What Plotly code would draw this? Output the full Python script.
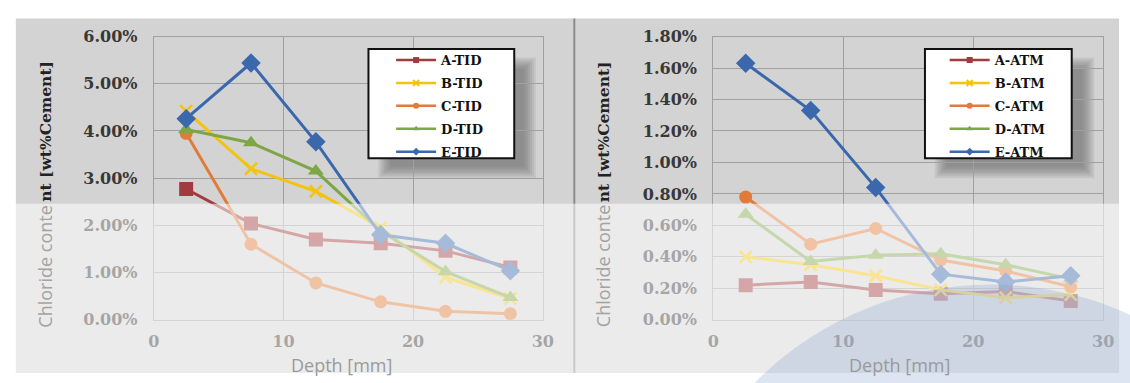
import plotly.graph_objects as go

W, H = 1130, 383

# ---- data -------------------------------------------------------------
DEPTH_MM = [2.5, 7.5, 12.5, 17.5, 22.5, 27.5]

TID_NAMES = ["A-TID", "B-TID", "C-TID", "D-TID", "E-TID"]
A_TID = [2.77, 2.04, 1.70, 1.62, 1.46, 1.11]
B_TID = [4.42, 3.20, 2.72, 1.95, 0.90, 0.45]
C_TID = [3.95, 1.60, 0.78, 0.38, 0.18, 0.13]
D_TID = [4.03, 3.75, 3.15, 1.88, 1.02, 0.47]
E_TID = [4.26, 5.44, 3.77, 1.80, 1.62, 1.04]

ATM_NAMES = ["A-ATM", "B-ATM", "C-ATM", "D-ATM", "E-ATM"]
A_ATM = [0.22, 0.24, 0.19, 0.165, 0.18, 0.12]
B_ATM = [0.40, 0.35, 0.28, 0.19, 0.14, 0.16]
C_ATM = [0.78, 0.48, 0.58, 0.38, 0.31, 0.21]
D_ATM = [0.67, 0.37, 0.41, 0.42, 0.35, 0.26]
E_ATM = [1.63, 1.33, 0.84, 0.29, 0.24, 0.28]

X_TICKS = [0, 10, 20, 30]
Y_TICKS_TID = [0, 1, 2, 3, 4, 5, 6]
Y_TICKS_ATM = [0.0, 0.2, 0.4, 0.6, 0.8, 1.0, 1.2, 1.4, 1.6, 1.8]

# ---- styles -----------------------------------------------------------
COLORS = ["#a23b3e", "#f2c30f", "#e07b39", "#7ea646", "#3b68ad"]
SYMBOLS = ["square", "x-thin", "circle", "triangle-up", "diamond"]
SIZES = [14, 12, 13, 14, 15]

SERIF = "DejaVu Serif"
SANS = "Open Sans"


def fx(px):
    return px / W


def fy(py):
    return 1 - py / H


fig = go.Figure()


def marker_style(i, size):
    if SYMBOLS[i] == "x-thin":
        return dict(symbol="x-thin", size=size,
                    line=dict(width=2.6 if size > 8 else 2, color=COLORS[i]))
    return dict(symbol=SYMBOLS[i], size=size, color=COLORS[i], line=dict(width=0))


def add_panel(names, series, xa, ya, legend):
    for i, (name, vals) in enumerate(zip(names, series)):
        fig.add_trace(go.Scatter(
            x=DEPTH_MM, y=vals, name=name, mode="lines+markers",
            xaxis=xa, yaxis=ya, showlegend=False,
            line=dict(color=COLORS[i], width=3),
            marker=marker_style(i, SIZES[i]),
            hoverinfo="skip",
        ))
    # compact legend entries with small markers
    for i, name in enumerate(names):
        fig.add_trace(go.Scatter(
            x=[None], y=[None], name=name, mode="lines+markers",
            xaxis=xa, yaxis=ya, legend=legend, legendgroup=name,
            line=dict(color=COLORS[i], width=2.5),
            marker=marker_style(i, 6),
        ))


add_panel(TID_NAMES, [A_TID, B_TID, C_TID, D_TID, E_TID], "x", "y", "legend")
add_panel(ATM_NAMES, [A_ATM, B_ATM, C_ATM, D_ATM, E_ATM], "x2", "y2", "legend2")

PLOT_TOP, PLOT_BOTTOM = 29, 327
LEFT_X = (150, 545)
RIGHT_X = (718, 1114)

grid = "#a0a0a0"
tickfont = dict(family=SERIF, size=16, color="#383838", weight="bold")

xcommon = dict(range=[0, 30], tickmode="array", tickvals=X_TICKS,
               ticktext=[str(v) for v in X_TICKS], showgrid=True,
               gridcolor=grid, gridwidth=1, zeroline=False, showline=True,
               linecolor=grid, mirror=True, ticks="", tickfont=tickfont,
               ticklabelstandoff=7, fixedrange=True)
ycommon = dict(showgrid=True, gridcolor=grid, gridwidth=1, zeroline=False,
               showline=True, linecolor=grid, mirror=True, ticks="",
               tickfont=tickfont, ticklabelstandoff=12, fixedrange=True)

legend_common = dict(
    bgcolor="rgba(0,0,0,0)", borderwidth=0, xanchor="left", yanchor="top",
    font=dict(family=SERIF, size=13, color="#111111", weight="bold"),
    traceorder="grouped", tracegroupgap=3, itemwidth=40,
)

shapes = [
    # chart frames
    dict(type="rect", xref="paper", yref="paper", layer="below",
         x0=fx(10), x1=1, y0=0, y1=fy(10), fillcolor="#d3d3d3", line_width=0),
    dict(type="rect", xref="paper", yref="paper", layer="below",
         x0=fx(576), x1=fx(578), y0=0, y1=fy(10), fillcolor="#8a8a8a", line_width=0),
]


def legend_shapes(xd, yd, box, shadow):
    out = []
    x0, x1 = LEFT_X if xd == "x" else RIGHT_X

    def dx(p):
        return (p - x0) / (x1 - x0)

    def dy(p):
        return (PLOT_BOTTOM - p) / (PLOT_BOTTOM - PLOT_TOP)

    # soft drop shadow: stacked translucent rectangles
    sx0, sy0, sx1, sy1 = shadow
    for grow in [7, 5, 3, 1, -1, -3, -5]:
        out.append(dict(type="rect", xref=f"{xd} domain", yref=f"{yd} domain",
                        layer="below", x0=dx(sx0 - grow), x1=dx(sx1 + grow),
                        y0=dy(sy1 + grow), y1=dy(sy0 - grow),
                        fillcolor="rgba(95,95,95,0.12)", line_width=0))
    bx0, by0, bx1, by1 = box
    out.append(dict(type="rect", xref="paper", yref="paper", layer="above",
                    x0=fx(bx0), x1=fx(bx1), y0=fy(by1), y1=fy(by0),
                    fillcolor="white", line=dict(color="#111111", width=2)))
    return out


shapes += legend_shapes("x", "y", (368, 42, 516, 157), (385, 58, 531, 171))
shapes += legend_shapes("x2", "y2", (933, 42, 1082, 157), (950, 58, 1098, 171))

# pale wash over the lower band and the bluish disc at lower right
shapes.append(dict(type="rect", xref="paper", yref="paper", layer="above",
                   x0=0, x1=1, y0=0, y1=fy(205), fillcolor="white",
                   opacity=0.55, line_width=0))
shapes.append(dict(type="circle", xref="paper", yref="paper", layer="above",
                   x0=fx(670), x1=fx(1330), y0=fy(950), y1=fy(290),
                   fillcolor="rgba(130,160,205,0.28)", line_width=0))

annotations = []
for cx in (40, 606):
    annotations.append(dict(
        text="Chloride conte", textangle=-90, xref="paper", yref="paper",
        x=fx(cx), y=fy(337), xanchor="center", yanchor="bottom", showarrow=False,
        font=dict(family=SANS, size=18, color="#a3a3a3")))
    annotations.append(dict(
        text="nt [wt%Cement]", textangle=-90, xref="paper", yref="paper",
        x=fx(cx), y=fy(205), xanchor="center", yanchor="bottom", showarrow=False,
        font=dict(family=SERIF, size=15.5, color="#222222", weight="bold")))
for cx in (341, 907):
    annotations.append(dict(
        text="Depth [mm]", xref="paper", yref="paper", x=fx(cx), y=fy(375),
        xanchor="center", yanchor="middle", showarrow=False,
        font=dict(family=SANS, size=18, color="#9a9a9a")))

fig.update_layout(
    width=W, height=H, autosize=False,
    margin=dict(l=0, r=0, t=0, b=0),
    paper_bgcolor="white", plot_bgcolor="white",
    xaxis=dict(domain=[fx(LEFT_X[0]), fx(LEFT_X[1])], anchor="y", **xcommon),
    yaxis=dict(domain=[fy(PLOT_BOTTOM), fy(PLOT_TOP)], anchor="x",
               range=[0, 6], tickmode="array", tickvals=Y_TICKS_TID,
               ticktext=[f"{v:.2f}%" for v in Y_TICKS_TID], **ycommon),
    xaxis2=dict(domain=[fx(RIGHT_X[0]), fx(RIGHT_X[1])], anchor="y2", **xcommon),
    yaxis2=dict(domain=[fy(PLOT_BOTTOM), fy(PLOT_TOP)], anchor="x2",
                range=[0, 1.8], tickmode="array", tickvals=Y_TICKS_ATM,
                ticktext=[f"{v:.2f}%" for v in Y_TICKS_ATM], **ycommon),
    legend=dict(x=fx(391), y=fy(38), **legend_common),
    legend2=dict(x=fx(953), y=fy(38), **legend_common),
    shapes=shapes,
    annotations=annotations,
    showlegend=True,
)

fig.write_html("out.html")
